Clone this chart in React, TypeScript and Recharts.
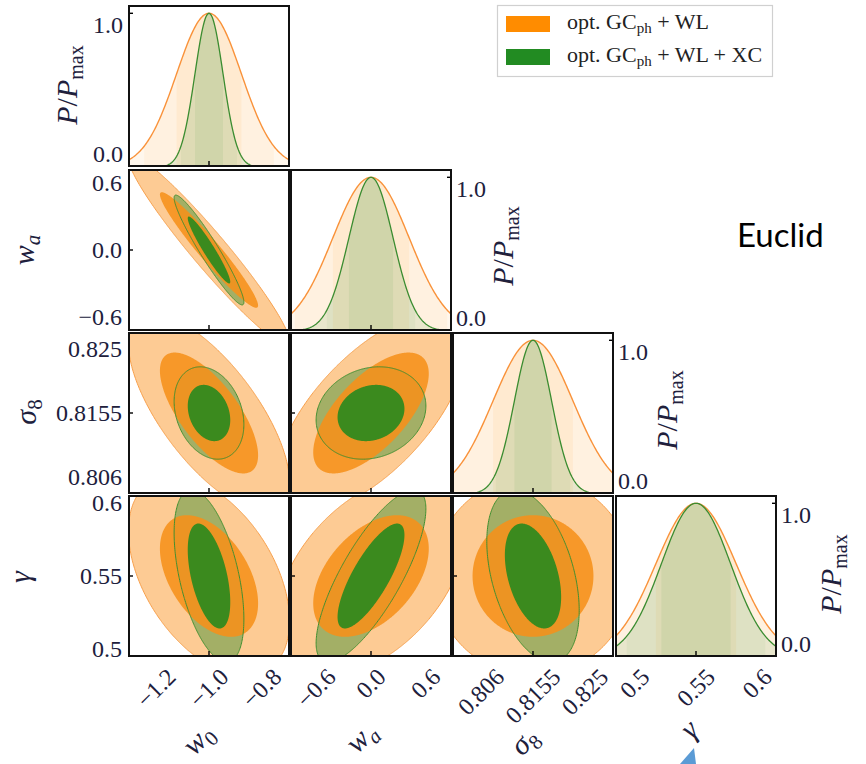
import React from 'react';
import { ComposedChart, Area, XAxis, YAxis } from 'recharts';

// ---- values ----
// parameter order: w0, wa, sigma8, gamma
const fiducials = [-1.0, 0.0, 0.8155, 0.55];
const axisHalfRanges = [0.3065, 0.887, 0.01482, 0.0662];
const paramTicks = [
  [-1.2, -1.0, -0.8],
  [-0.6, 0.0, 0.6],
  [0.806, 0.8155, 0.825],
  [0.5, 0.55, 0.6],
];
const paramTickLabels = [
  ['−1.2', '−1.0', '−0.8'],
  ['−0.6', '0.0', '0.6'],
  ['0.806', '0.8155', '0.825'],
  ['0.5', '0.55', '0.6'],
];
// 1-sigma marginal errors
const sigmaGCWL = [0.1226, 0.4176, 0.0073, 0.0328];
const sigmaGCWLXC = [0.0531, 0.2418, 0.0034, 0.0283];
// correlation coefficients for pairs (w0,wa) (w0,s8) (w0,g) (wa,s8) (wa,g) (s8,g)
const corrPairs = [[0, 1], [0, 2], [0, 3], [1, 2], [1, 3], [2, 3]];
const corrGCWL = [-0.96, -0.7, -0.45, 0.65, 0.45, 0.0];
const corrGCWLXC = [-0.95, -0.25, -0.5, 0.15, 0.78, -0.4];
const contourLevels = [1.515, 2.486]; // 68% / 95% in 2D
const bandLevels = [1, 2];
const pdfTicks = [0, 1];
const pdfTickLabels = ['0.0', '1.0'];
const pdfTop = 1.054;

const ORANGE = '#FF8C00';
const GREEN = '#228B22';
const FONT = "'Liberation Serif', 'DejaVu Serif', serif";
const INK = '#20203c';
const TICK_FS = 24;

const colLeft = [128, 290, 452, 615];
const rowTop = [5, 169, 332, 495];
const SIZE = 162;

const corrOf = (list: number[], a: number, b: number) => {
  const k = corrPairs.findIndex(p => (p[0] === a && p[1] === b) || (p[0] === b && p[1] === a));
  return list[k];
};

function ellipseData(ix: number, iy: number) {
  const contours = [
    { key: 'o95', sig: sigmaGCWL, rho: corrGCWL, k: contourLevels[1] },
    { key: 'g95', sig: sigmaGCWLXC, rho: corrGCWLXC, k: contourLevels[1] },
    { key: 'o68', sig: sigmaGCWL, rho: corrGCWL, k: contourLevels[0] },
    { key: 'g68', sig: sigmaGCWLXC, rho: corrGCWLXC, k: contourLevels[0] },
  ];
  const steps = 120;
  const xs: number[] = [];
  contours.forEach(c => {
    const r = c.k * c.sig[ix];
    for (let i = 0; i <= steps; i++) xs.push(fiducials[ix] - r * Math.cos((Math.PI * i) / steps));
  });
  xs.sort((a, b) => a - b);
  return xs.map(x => {
    const row: any = { x };
    contours.forEach(c => {
      const sx = c.sig[ix];
      const sy = c.sig[iy];
      const r = corrOf(c.rho, ix, iy);
      const dx = x - fiducials[ix];
      const t = c.k * c.k - (dx * dx) / (sx * sx);
      if (t < -1e-9) return;
      const mid = (r * sy * dx) / sx;
      const h = sy * Math.sqrt(Math.max(0, (1 - r * r) * t));
      row[c.key] = [fiducials[iy] + mid - h, fiducials[iy] + mid + h];
    });
    if (row.g95) row.g95line = row.g95;
    return row;
  });
}

function pdfData(i: number) {
  const lo = fiducials[i] - axisHalfRanges[i];
  const hi = fiducials[i] + axisHalfRanges[i];
  const xs: number[] = [];
  for (let j = 0; j <= 200; j++) xs.push(lo + ((hi - lo) * j) / 200);
  [sigmaGCWL[i], sigmaGCWLXC[i]].forEach(s =>
    bandLevels.forEach(n => xs.push(fiducials[i] - n * s, fiducials[i] + n * s))
  );
  xs.sort((a, b) => a - b);
  return xs.map(x => {
    const zo = (x - fiducials[i]) / sigmaGCWL[i];
    const zg = (x - fiducials[i]) / sigmaGCWLXC[i];
    const po = Math.exp(-zo * zo / 2);
    const pg = Math.exp(-zg * zg / 2);
    const row: any = { x, oc: po, ol: po, gc: pg, gl: pg };
    if (Math.abs(zo) <= bandLevels[1] + 1e-9) row.ob2 = po;
    if (Math.abs(zo) <= bandLevels[0] + 1e-9) row.ob1 = po;
    if (Math.abs(zg) <= bandLevels[1] + 1e-9) row.gb2 = pg;
    if (Math.abs(zg) <= bandLevels[0] + 1e-9) row.gb1 = pg;
    return row;
  });
}

const textWidth = (s: string, fs: number) => {
  let w = 0;
  for (const ch of s) w += ch === '.' ? 0.25 : ch === '−' ? 0.564 : 0.5;
  return w * fs;
};

// the x axis is 1px tall, so the tick anchor sits 1px under the plot
const makeXTick = (p: number, showLabel: boolean) => (props: any) => {
  const { x, payload } = props;
  const y = props.y - 1;
  const idx = paramTicks[p].findIndex(t => Math.abs(t - payload.value) < 1e-9);
  const label = paramTickLabels[p][idx] ?? '';
  const bh = (textWidth(label, TICK_FS) + 0.68 * TICK_FS) * Math.SQRT1_2;
  const cy = y + 11 + bh / 2;
  return (
    <g>
      {idx === 1 && <line x1={x} x2={x} y1={y} y2={y - 5} stroke="#000" strokeWidth={1.4} />}
      {showLabel && (
        <text x={x} y={cy} textAnchor="middle" dominantBaseline="central" transform={`rotate(-45 ${x} ${cy})`}
          fontSize={TICK_FS} fontFamily={FONT} fill={INK}>{label}</text>
      )}
    </g>
  );
};

const makeYTick = (p: number, showLabel: boolean) => (props: any) => {
  const { x, y, payload } = props;
  const idx = paramTicks[p].findIndex(t => Math.abs(t - payload.value) < 1e-9);
  const dy = idx === 0 ? 12 : idx === 2 ? -12 : 0;
  return (
    <g>
      {idx === 1 && <line x1={x} x2={x + 5} y1={y} y2={y} stroke="#000" strokeWidth={1.4} />}
      {showLabel && (
        <text x={x - 6} y={y + dy} textAnchor="end" dominantBaseline="central" fontSize={TICK_FS} fontFamily={FONT} fill={INK}>
          {paramTickLabels[p][idx]}
        </text>
      )}
    </g>
  );
};

const makePdfTick = (left: boolean) => (props: any) => {
  const { x, y, payload } = props;
  const idx = pdfTicks.indexOf(payload.value);
  const dy = payload.value === 1 ? 12 : -13;
  return (
    <g>
      {payload.value === 1 && <line x1={x} x2={left ? x + 5 : x - 5} y1={y} y2={y} stroke="#000" strokeWidth={1.4} />}
      <text x={left ? x - 5 : x + 4} y={y + dy} textAnchor={left ? 'end' : 'start'} dominantBaseline="central"
        fontSize={TICK_FS} fontFamily={FONT} fill={INK}>{pdfTickLabels[idx]}</text>
    </g>
  );
};

const Panel2D: React.FC<{ ix: number; iy: number }> = ({ ix, iy }) => {
  const data = ellipseData(ix, iy);
  const showX = iy === 3;
  const showY = ix === 0;
  const m = { top: 20, right: 0, bottom: showX ? 110 : 0, left: showY ? 110 : 0 };
  return (
    <div style={{ position: 'absolute', left: colLeft[ix] - m.left - 1, top: rowTop[iy] - m.top }}>
      <ComposedChart width={SIZE + m.left + m.right + 1} height={SIZE + m.top + m.bottom + 1} margin={m} data={data}>
        <Area dataKey="o95" type="linear" fill="#FDCB94" fillOpacity={1} stroke="#F8A04C" strokeWidth={1} dot={false} activeDot={false} isAnimationActive={false} />
        <Area dataKey="g95" type="linear" fill="#A3AF66" fillOpacity={1} stroke="none" dot={false} activeDot={false} isAnimationActive={false} />
        <Area dataKey="o68" type="linear" fill="#F6911A" fillOpacity={0.88} stroke="none" dot={false} activeDot={false} isAnimationActive={false} />
        <Area dataKey="g95line" type="linear" fill="none" stroke="#3F8F30" strokeWidth={1} dot={false} activeDot={false} isAnimationActive={false} />
        <Area dataKey="g68" type="linear" fill="#3B8A1E" fillOpacity={1} stroke="none" dot={false} activeDot={false} isAnimationActive={false} />
        <XAxis type="number" dataKey="x" domain={[fiducials[ix] - axisHalfRanges[ix], fiducials[ix] + axisHalfRanges[ix]]}
          allowDataOverflow ticks={paramTicks[ix]} interval={0} height={1} tickLine={false} axisLine={false}
          tickSize={0} tickMargin={0} tick={makeXTick(ix, showX)} />
        <YAxis type="number" domain={[fiducials[iy] - axisHalfRanges[iy], fiducials[iy] + axisHalfRanges[iy]]}
          allowDataOverflow ticks={paramTicks[iy]} interval={0} width={1} tickLine={false} axisLine={false}
          tickSize={0} tickMargin={0} tick={makeYTick(iy, showY)} />
      </ComposedChart>
    </div>
  );
};

const Panel1D: React.FC<{ i: number }> = ({ i }) => {
  const data = pdfData(i);
  const showX = i === 3;
  const left = i === 0;
  const m = { top: 20, right: left ? 0 : 60, bottom: showX ? 110 : 0, left: left ? 110 : 0 };
  return (
    <div style={{ position: 'absolute', left: colLeft[i] - m.left - (left ? 1 : 0), top: rowTop[i] - m.top }}>
      <ComposedChart width={SIZE + m.left + m.right + 1} height={SIZE + m.top + m.bottom + 1} margin={m} data={data}>
        <Area dataKey="oc" fill={ORANGE} fillOpacity={0.07} stroke="none" dot={false} activeDot={false} isAnimationActive={false} />
        <Area dataKey="ob2" fill={ORANGE} fillOpacity={0.055} stroke="none" dot={false} activeDot={false} isAnimationActive={false} />
        <Area dataKey="ob1" fill={ORANGE} fillOpacity={0.07} stroke="none" dot={false} activeDot={false} isAnimationActive={false} />
        <Area dataKey="gc" fill={GREEN} fillOpacity={0.1} stroke="none" dot={false} activeDot={false} isAnimationActive={false} />
        <Area dataKey="gb2" fill={GREEN} fillOpacity={0.05} stroke="none" dot={false} activeDot={false} isAnimationActive={false} />
        <Area dataKey="gb1" fill={GREEN} fillOpacity={0.07} stroke="none" dot={false} activeDot={false} isAnimationActive={false} />
        <Area dataKey="ol" fill="none" stroke="#F9923A" strokeWidth={1.4} dot={false} activeDot={false} isAnimationActive={false} />
        <Area dataKey="gl" fill="none" stroke="#3A8C30" strokeWidth={1.3} dot={false} activeDot={false} isAnimationActive={false} />
        <XAxis type="number" dataKey="x" domain={[fiducials[i] - axisHalfRanges[i], fiducials[i] + axisHalfRanges[i]]}
          allowDataOverflow ticks={paramTicks[i]} interval={0} height={1} tickLine={false} axisLine={false}
          tickSize={0} tickMargin={0} tick={makeXTick(i, showX)} />
        <YAxis type="number" orientation={left ? 'left' : 'right'} domain={[0, pdfTop]} allowDataOverflow ticks={pdfTicks}
          interval={0} width={1} tickLine={false} axisLine={false} tickSize={0} tickMargin={0} tick={makePdfTick(left)} />
      </ComposedChart>
    </div>
  );
};

const PLabel: React.FC<{ x: number; y: number }> = ({ x, y }) => (
  <text x={x} y={y} transform={`rotate(-90 ${x} ${y})`} textAnchor="middle" fontFamily={FONT} fontSize={30} fill={INK}>
    <tspan fontStyle="italic">P</tspan>
    <tspan>/</tspan>
    <tspan fontStyle="italic">P</tspan>
    <tspan fontSize={20} dy={6}>max</tspan>
  </text>
);

const MathLabel: React.FC<{ x: number; y: number; angle: number; main: string; sub?: string; subItalic?: boolean }> = ({ x, y, angle, main, sub, subItalic }) => (
  <text x={x} y={y} transform={`rotate(${angle} ${x} ${y})`} textAnchor="middle" fontFamily={FONT} fontSize={30} fill={INK}>
    <tspan fontStyle="italic">{main}</tspan>
    {sub && <tspan fontSize={21} dy={6} fontStyle={subItalic ? 'italic' : 'normal'}>{sub}</tspan>}
  </text>
);

const App: React.FC = () => {
  const pairs: [number, number][] = [];
  for (let r = 1; r < 4; r++) for (let c = 0; c < r; c++) pairs.push([c, r]);
  const frames: [number, number][] = [];
  for (let r = 0; r < 4; r++) for (let c = 0; c <= r; c++) frames.push([c, r]);

  return (
    <div style={{ position: 'absolute', left: 0, top: 0, width: 866, height: 764, background: '#fff', overflow: 'hidden' }}>
      {[0, 1, 2, 3].map(i => <Panel1D key={`p${i}`} i={i} />)}
      {pairs.map(([c, r]) => <Panel2D key={`e${c}${r}`} ix={c} iy={r} />)}
      {frames.map(([c, r]) => (
        <div key={`f${c}${r}`} style={{ position: 'absolute', left: colLeft[c], top: rowTop[r], width: SIZE, height: SIZE,
          border: '2px solid #111', boxSizing: 'border-box', pointerEvents: 'none' }} />
      ))}
      <svg width={866} height={764} style={{ position: 'absolute', left: 0, top: 0, pointerEvents: 'none' }}>
        <PLabel x={77} y={85} />
        <PLabel x={513} y={246} />
        <PLabel x={677} y={410} />
        <PLabel x={841} y={574} />

        <MathLabel x={34} y={250} angle={-90} main="w" sub="a" subItalic />
        <MathLabel x={36} y={412} angle={-90} main="σ" sub="8" />
        <MathLabel x={30} y={577} angle={-90} main="γ" />

        <MathLabel x={205} y={746} angle={-45} main="w" sub="0" />
        <MathLabel x={368} y={744} angle={-45} main="w" sub="a" subItalic />
        <MathLabel x={531} y={748} angle={-45} main="σ" sub="8" />
        <MathLabel x={696} y={736} angle={-45} main="γ" />

        <rect x={497.5} y={5.5} width={275} height={71} fill="#fff" stroke="#d0d0d0" strokeWidth={1.2} />
        <rect x={506} y={16} width={44} height={16} fill={ORANGE} />
        <rect x={506} y={49} width={44} height={16} fill={GREEN} />
        <text x={567} y={29} fontSize={22} fontFamily={FONT} fill="#222">
          opt. GC<tspan fontSize={15} dy={4}>ph</tspan><tspan dy={-4}> + WL</tspan>
        </text>
        <text x={567} y={62} fontSize={22} fontFamily={FONT} fill="#222">
          opt. GC<tspan fontSize={15} dy={4}>ph</tspan><tspan dy={-4}> + WL + XC</tspan>
        </text>

        <text x={737} y={247} fontFamily="Lato, 'Open Sans', sans-serif" fontSize={33} fill="#000">Euclid</text>
        <polygon points="680,764 696,764 694,748" fill="#5B9BD5" />
      </svg>
    </div>
  );
};

export default App;
